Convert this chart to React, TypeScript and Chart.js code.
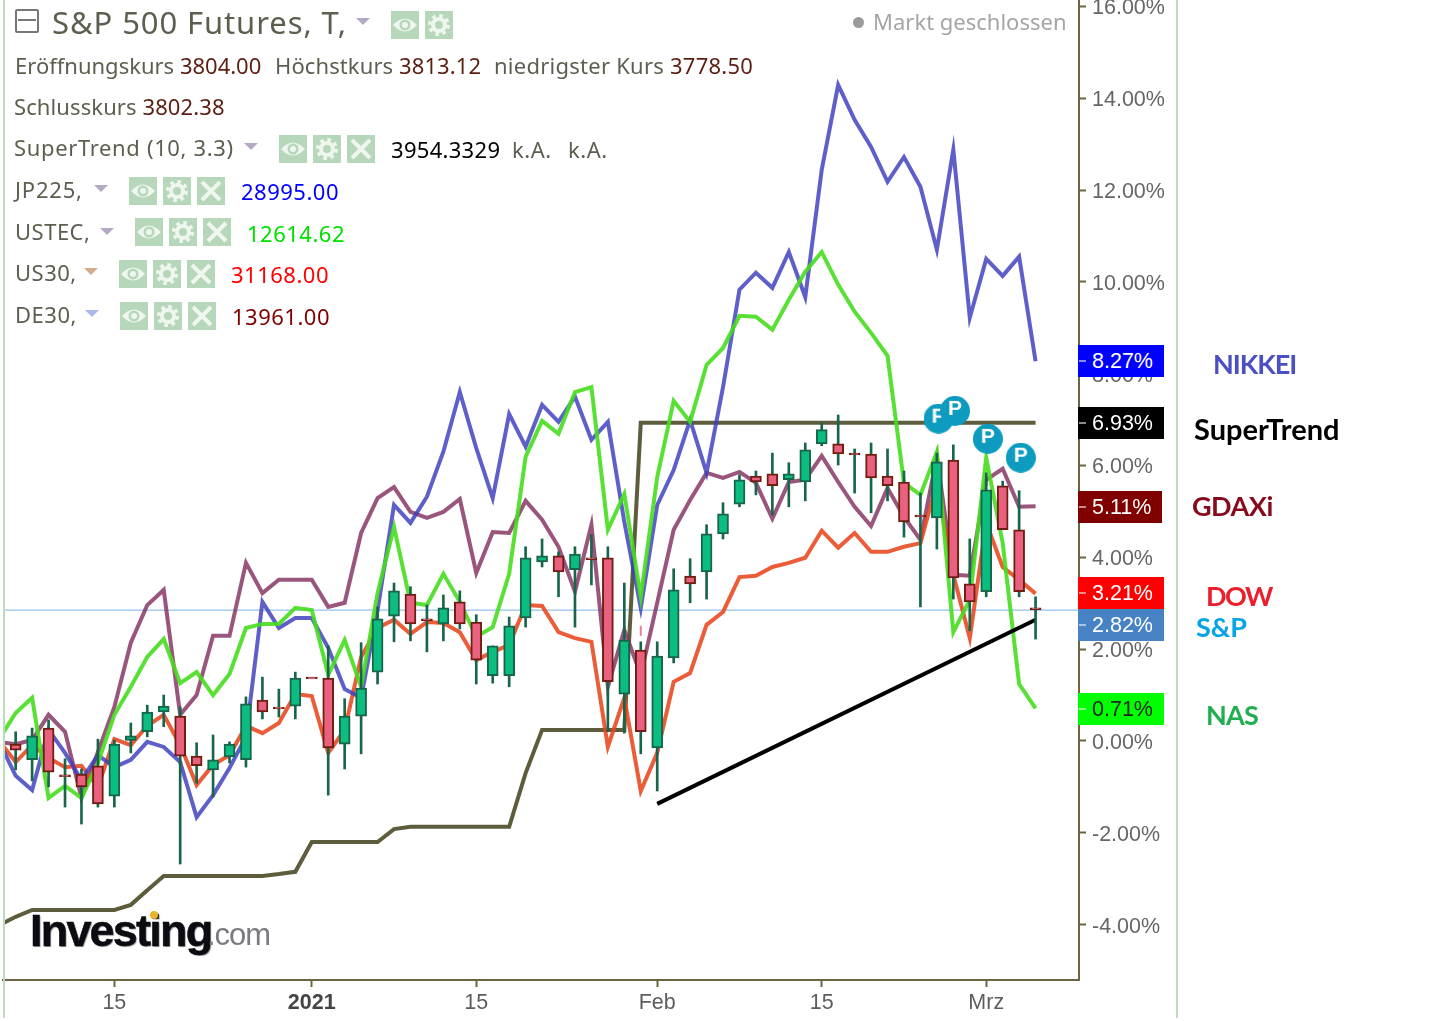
import { useEffect, useRef } from "react"
import { Chart, registerables } from "chart.js"

Chart.register(...registerables)

// candle index 0 is the first full candle, the line series start one session earlier
const opens = [-0.07,-0.41,0.28,-0.74,-0.72,-0.54,-1.20,0.00,0.20,0.63,0.54,-0.33,-0.63,-0.35,-0.41,0.89,0.74,0.76,1.39,1.37,-0.07,0.54,1.50,2.72,3.20,2.66,2.55,3.03,2.59,1.42,1.42,2.68,3.90,4.03,3.73,3.99,3.99,1.02,1.98,-0.15,1.81,3.59,3.68,4.51,5.16,5.77,5.82,5.69,5.64,6.47,6.47,6.27,6.25,5.77,5.64,4.92,4.86,6.12,3.42,3.25,5.56,4.60,2.90]
const closes = [-0.20,0.11,-0.68,-0.78,-1.00,-1.37,-0.07,0.11,0.63,0.76,-0.33,-0.54,-0.41,-0.07,0.81,0.63,0.70,1.37,1.35,-0.15,0.54,1.15,2.66,3.27,2.55,2.62,2.90,2.55,1.76,2.07,2.51,3.99,4.03,3.68,4.07,3.95,1.29,2.20,0.20,1.85,3.29,3.42,4.51,4.95,5.69,5.64,5.56,5.82,6.34,6.78,6.25,6.23,5.73,5.56,4.77,4.88,6.08,3.55,3.03,5.47,4.60,3.25,2.86]
const highs = [0.20,0.28,0.46,-0.39,-0.61,0.04,0.02,0.39,0.78,1.00,0.74,-0.04,0.13,-0.02,0.96,1.39,1.13,1.50,1.37,2.07,0.92,2.14,2.92,3.44,3.36,2.96,3.18,3.27,2.75,2.07,2.70,4.23,4.40,4.12,4.23,4.49,4.23,3.44,2.16,2.16,3.75,3.97,4.71,5.19,5.80,5.88,6.27,6.06,6.49,6.93,7.10,6.36,6.49,6.36,5.88,5.40,6.27,6.45,4.40,5.84,5.66,5.45,3.14]
const lows = [-0.63,-0.87,-1.00,-1.44,-1.81,-1.44,-1.44,-0.26,0.09,0.31,-2.68,-0.92,-1.22,-0.48,-0.57,0.48,0.52,0.48,1.37,-1.18,-0.61,-0.28,1.24,2.16,2.18,1.94,2.18,2.44,1.24,1.26,1.18,2.48,3.79,3.14,2.48,3.40,0.20,0.17,-0.28,-1.09,1.70,3.01,3.09,4.40,5.10,5.36,4.92,5.10,5.23,6.43,6.01,5.40,4.97,5.23,4.44,2.92,4.18,3.09,2.40,3.14,4.60,3.14,2.22]

const nikkei = [-0.02,-0.76,-1.07,0.24,-0.26,-0.85,-0.31,-0.57,-0.41,-0.02,-0.13,-0.46,-1.66,-1.18,-0.59,0.09,3.03,2.46,2.68,2.68,2.03,1.13,0.94,2.85,5.14,4.75,5.32,6.30,7.60,6.38,5.29,7.12,6.41,7.32,6.95,7.50,6.56,6.95,4.77,2.90,5.14,5.90,6.99,5.84,7.71,9.83,10.20,9.87,10.65,9.67,12.44,14.29,13.53,12.94,12.18,12.72,12.07,10.70,12.88,9.22,10.50,10.13,10.55,8.27]
const nasdaq = [0.04,0.61,0.94,-1.24,-0.98,-1.24,-0.48,0.57,1.18,1.83,2.22,1.26,1.50,1.00,1.46,2.46,2.55,2.55,2.90,2.85,1.44,2.20,1.18,3.22,4.66,3.01,2.96,3.64,3.03,2.27,2.48,3.64,6.19,6.97,6.69,7.60,7.71,4.60,5.38,3.14,5.75,7.41,6.95,8.19,8.56,9.26,9.24,8.96,9.61,10.22,10.65,9.94,9.35,8.89,8.39,5.62,5.36,6.30,2.37,3.07,6.17,4.31,1.24,0.71]
const gdaxi = [-0.02,-0.07,0.02,0.57,0.20,-1.24,-0.24,0.74,2.14,2.96,3.29,0.57,1.00,2.29,2.29,3.88,3.22,3.51,3.51,3.51,2.92,3.01,4.53,5.29,5.53,4.99,4.86,4.99,5.27,3.66,4.55,4.53,5.23,4.82,4.23,3.25,4.71,1.18,2.42,1.44,3.01,4.60,5.25,5.84,5.73,5.86,5.62,4.84,5.64,5.69,6.21,5.64,5.10,4.68,5.51,4.88,4.38,6.19,3.62,3.60,5.69,5.93,5.10,5.11]
const dow = [0.00,-0.46,-0.09,-0.37,-0.57,-0.54,-1.00,0.04,-0.09,0.33,0.57,-0.09,-0.96,-0.52,-0.31,0.33,0.17,0.39,1.02,0.98,-0.26,0.24,1.83,2.46,2.64,2.33,2.59,2.57,2.37,1.76,1.94,2.09,2.96,2.94,2.37,2.24,2.16,-0.13,0.94,-1.09,-0.26,1.29,1.48,2.53,2.81,3.57,3.60,3.79,3.88,3.99,4.58,4.21,4.53,4.12,4.12,4.23,4.31,5.62,3.62,2.24,4.75,3.79,3.51,3.21]
const superTrend = [-4.01,-3.83,-3.68,-3.68,-3.68,-3.68,-3.68,-3.68,-3.57,-3.25,-2.94,-2.94,-2.94,-2.94,-2.94,-2.94,-2.94,-2.90,-2.85,-2.20,-2.20,-2.20,-2.20,-2.20,-1.92,-1.87,-1.87,-1.87,-1.87,-1.87,-1.87,-1.87,-0.70,0.24,0.24,0.24,0.24,0.24,0.24,6.93,6.93,6.93,6.93,6.93,6.93,6.93,6.93,6.93,6.93,6.93,6.93,6.93,6.93,6.93,6.93,6.93,6.93,6.93,6.93,6.93,6.93,6.93,6.93,6.93]

const trendX = [39, 62]
const trendY = [-1.37, 2.64]
const lastPrice = 2.85
const pivotX = [56.1, 57.1, 59.1, 61.1]
const pivotY = [7.02, 7.19, 6.58, 6.17]
const xTicks = [6, 18, 28, 39, 49, 59]
const xLabels = ["15", "2021", "15", "Feb", "15", "Mrz"]
const yTicks = [-4, -2, 0, 2, 4, 6, 8, 10, 12, 14, 16]

const X_MIN = -0.77
const X_MAX = 64.64
const OLIVE = "#6b6541"
const ARIAL = "'Liberation Sans', Arial, sans-serif"
const UI = "'Noto Sans', Tahoma, sans-serif"
const LABEL = "#5e5e50"
const VALUE = "#5b1f12"

function pivotImage() {
  const c = document.createElement("canvas")
  c.width = 30
  c.height = 30
  const g = c.getContext("2d")!
  g.fillStyle = "#0d9cbf"
  g.beginPath()
  g.arc(15, 15, 15, 0, Math.PI * 2)
  g.fill()
  g.fillStyle = "#fff"
  g.font = `bold 21px ${ARIAL}`
  g.textAlign = "center"
  g.textBaseline = "middle"
  g.fillText("P", 15, 13)
  return c
}

const asLine = (values: number[], color: string, order: number, width = 4) => ({
  type: "line" as const,
  data: values.map((y, i) => ({ x: i - 1, y })),
  borderColor: color,
  borderWidth: width,
  pointRadius: 0,
  tension: 0,
  borderJoinStyle: "miter" as const,
  order,
})

const Btn = ({ x, y, kind }: { x: number; y: number; kind: "eye" | "gear" | "x" }) => (
  <svg style={{ position: "absolute", left: x, top: y }} width="28" height="28" viewBox="0 0 28 28">
    <rect width="28" height="28" fill="#b7d7ba" />
    {kind === "eye" && (
      <>
        <path d="M2 14 Q14 1 26 14 Q14 27 2 14 Z" fill="#eef6ee" />
        <circle cx="14" cy="14" r="5.5" fill="#b7d7ba" />
        <circle cx="14" cy="14" r="3" fill="#eef6ee" />
      </>
    )}
    {kind === "gear" && (
      <>
        <circle cx="14" cy="14" r="9" fill="none" stroke="#eef6ee" strokeWidth="4" strokeDasharray="3.5 3.57" />
        <circle cx="14" cy="14" r="6" fill="none" stroke="#eef6ee" strokeWidth="4" />
      </>
    )}
    {kind === "x" && <path d="M5 5L23 23M23 5L5 23" stroke="#eef6ee" strokeWidth="4" />}
  </svg>
)

const Tri = ({ x, y, color = "#b3a9c4" }: { x: number; y: number; color?: string }) => (
  <div
    style={{
      position: "absolute",
      left: x,
      top: y,
      width: 0,
      height: 0,
      borderLeft: "7px solid transparent",
      borderRight: "7px solid transparent",
      borderTop: `7px solid ${color}`,
    }}
  />
)

const Txt = ({ x, y, size = 22, color = LABEL, spacing = 0, font = UI, bold = false, style, children }: any) => (
  <div
    style={{
      position: "absolute",
      left: x,
      top: y,
      fontFamily: font,
      fontSize: size,
      color,
      letterSpacing: spacing,
      fontWeight: bold ? 700 : 400,
      whiteSpace: "pre",
      lineHeight: 1,
      ...style,
    }}
  >
    {children}
  </div>
)

const Tag = ({ y, w = 86, bg, color = "#fff", children }: any) => (
  <div
    style={{
      position: "absolute",
      left: 1078,
      top: y,
      width: w,
      height: 32,
      background: bg,
      color,
      fontFamily: ARIAL,
      fontSize: 21.5,
      lineHeight: "33px",
      paddingLeft: 14,
      boxSizing: "border-box",
    }}
  >
    <div style={{ position: "absolute", left: 1, top: 15, width: 7, height: 2, background: "rgba(255,255,255,0.55)" }} />
    {children}
  </div>
)

export default function App() {
  const ref = useRef<HTMLCanvasElement>(null)

  useEffect(() => {
    if (!ref.current) return
    const up = opens.map((o, i) => closes[i] >= o)
    const pivot = pivotImage()
    const chart = new Chart(ref.current, {
      data: {
        datasets: [
          {
            type: "scatter",
            data: pivotX.map((x, i) => ({ x, y: pivotY[i] })),
            pointStyle: pivot,
            pointRadius: 15,
            order: 0,
          },
          {
            type: "scatter",
            data: [{ x: 38, y: 2.4 }],
            pointStyle: "line",
            rotation: 90,
            pointRadius: 5,
            borderColor: "#ea7f9c",
            borderWidth: 2,
            order: 0,
          },
          {
            type: "bar",
            data: opens.map((o, i) => ({ x: i, y: [o, closes[i]] })),
            backgroundColor: up.map((u) => (u ? "#0cbd82" : "#e9617f")),
            borderColor: up.map((u) => (u ? "#17654a" : "#6e1f12")),
            borderWidth: 2,
            borderSkipped: false,
            barThickness: 11,
            grouped: false,
            order: 1,
          },
          {
            type: "bar",
            data: lows.map((l, i) => ({ x: i, y: [l, highs[i]] })),
            backgroundColor: "#17654a",
            borderWidth: 0,
            barThickness: 2,
            grouped: false,
            order: 2,
          },
          {
            type: "line",
            data: trendX.map((x, i) => ({ x, y: trendY[i] })),
            borderColor: "#000",
            borderWidth: 4,
            pointRadius: 0,
            order: 3,
          },
          asLine(nasdaq, "rgba(70,222,30,0.9)", 4),
          asLine(nikkei, "rgba(60,60,190,0.82)", 5),
          asLine(dow, "rgba(232,70,30,0.88)", 6),
          asLine(gdaxi, "rgba(135,55,100,0.85)", 7),
          asLine(superTrend, "rgba(75,75,40,0.9)", 8),
          {
            type: "line",
            data: [
              { x: X_MIN, y: lastPrice },
              { x: X_MAX, y: lastPrice },
            ],
            borderColor: "#94c1ec",
            borderWidth: 1.2,
            pointRadius: 0,
            order: 9,
          },
        ] as any,
      },
      options: {
        animation: false,
        responsive: false,
        devicePixelRatio: 1,
        // the pivot markers would otherwise add 15px of padding round the plot
        layout: { autoPadding: false, padding: { left: 3, right: 0, top: 0, bottom: 0 } },
        plugins: { legend: { display: false }, tooltip: { enabled: false } },
        scales: {
          x: {
            type: "linear",
            offset: false,
            bounds: "data",
            min: X_MIN,
            max: X_MAX,
            afterBuildTicks: (s: any) => {
              s.ticks = xTicks.map((value) => ({ value }))
            },
            afterFit: (s: any) => {
              s.height = 41
              s.paddingLeft = 0
              s.paddingRight = 0
            },
            grid: { offset: false, drawOnChartArea: false, tickLength: 7, tickColor: OLIVE, tickWidth: 2 },
            border: { color: OLIVE, width: 2 },
            ticks: {
              maxRotation: 0,
              autoSkip: false,
              padding: 3,
              color: (c: any) => (c.tick && c.tick.value === 18 ? "#444" : "#5d5d5d"),
              font: (c: any) => ({
                family: ARIAL,
                size: 21.5,
                weight: c.tick && c.tick.value === 18 ? "bold" : "normal",
              }),
              callback: (v: any) => xLabels[xTicks.indexOf(v)] ?? "",
            },
          },
          y: {
            position: "right",
            bounds: "data",
            min: -5.207,
            max: 16.14,
            afterBuildTicks: (s: any) => {
              s.ticks = yTicks.map((value) => ({ value }))
            },
            afterFit: (s: any) => {
              s.width = 362
              s.paddingTop = 0
              s.paddingBottom = 0
            },
            grid: { drawOnChartArea: false, tickLength: 7, tickColor: OLIVE, tickWidth: 2 },
            border: { color: OLIVE, width: 2 },
            ticks: {
              padding: 6,
              labelOffset: 2,
              color: "#666",
              font: { family: ARIAL, size: 21.5 },
              callback: (v: any) => `${Number(v).toFixed(2)}%`,
            },
          },
        },
      },
    })
    return () => chart.destroy()
  }, [])

  return (
    <div style={{ position: "absolute", left: 0, top: 0, width: 1441, height: 1021, background: "#fff", overflow: "hidden" }}>
      <canvas ref={ref} width={1441} height={1021} style={{ display: "block" }} />

      <div style={{ position: "absolute", left: 3, top: 0, width: 2, height: 1018, background: "#bcdcc0" }} />
      <div style={{ position: "absolute", left: 1176, top: 0, width: 2, height: 1018, background: "#bcdcc0" }} />

      <div style={{ position: "absolute", left: 15, top: 9, width: 20, height: 20, border: "2px solid #777", borderRadius: 2 }}>
        <div style={{ margin: "8px 1px", height: 2, background: "#777" }} />
      </div>
      <Txt x={52} y={7} size={31} spacing={0.9}>S&amp;P 500 Futures, T,</Txt>
      <Tri x={356} y={18} />
      <Btn x={391} y={11} kind="eye" />
      <Btn x={425} y={11} kind="gear" />
      <div style={{ position: "absolute", left: 853, top: 17, width: 11, height: 11, borderRadius: 6, background: "#9a9a9a" }} />
      <Txt x={873} y={10} size={22} color="#a5a5a5">Markt geschlossen</Txt>

      <Txt x={15} y={54}>Eröffnungskurs <span style={{ color: VALUE }}>3804.00</span></Txt>
      <Txt x={275} y={54} spacing={0.1}>Höchstkurs <span style={{ color: VALUE }}>3813.12</span></Txt>
      <Txt x={494} y={54} spacing={0.25}>niedrigster Kurs <span style={{ color: VALUE }}>3778.50</span></Txt>
      <Txt x={14} y={95} spacing={0.1}>Schlusskurs <span style={{ color: VALUE }}>3802.38</span></Txt>

      <Txt x={14} y={136} spacing={0.65}>SuperTrend (10, 3.3)</Txt>
      <Tri x={244} y={143} />
      <Btn x={279} y={135} kind="eye" />
      <Btn x={313} y={135} kind="gear" />
      <Btn x={347} y={135} kind="x" />
      <Txt x={391} y={138} color="#000" spacing={0.3}>3954.3329</Txt>
      <Txt x={512} y={138} spacing={0.5}>k.A.</Txt>
      <Txt x={568} y={138} spacing={0.5}>k.A.</Txt>

      <Txt x={15} y={178} spacing={0.8}>JP225,</Txt>
      <Tri x={94} y={185} />
      <Btn x={129} y={177} kind="eye" />
      <Btn x={163} y={177} kind="gear" />
      <Btn x={197} y={177} kind="x" />
      <Txt x={241} y={180} color="#0000ff" spacing={0.5}>28995.00</Txt>

      <Txt x={15} y={220} spacing={0.5}>USTEC,</Txt>
      <Tri x={100} y={228} />
      <Btn x={135} y={218} kind="eye" />
      <Btn x={169} y={218} kind="gear" />
      <Btn x={203} y={218} kind="x" />
      <Txt x={247} y={222} color="#00e000" spacing={0.5}>12614.62</Txt>

      <Txt x={15} y={261} spacing={0.5}>US30,</Txt>
      <Tri x={84} y={268} color="#d2ad8f" />
      <Btn x={119} y={260} kind="eye" />
      <Btn x={153} y={260} kind="gear" />
      <Btn x={187} y={260} kind="x" />
      <Txt x={231} y={263} color="#ff0000" spacing={0.5}>31168.00</Txt>

      <Txt x={15} y={303} spacing={0.5}>DE30,</Txt>
      <Tri x={85} y={310} color="#a9b8e6" />
      <Btn x={120} y={302} kind="eye" />
      <Btn x={154} y={302} kind="gear" />
      <Btn x={188} y={302} kind="x" />
      <Txt x={232} y={305} color="#800000" spacing={0.5}>13961.00</Txt>

      <Tag y={345} bg="#0000ff">8.27%</Tag>
      <Tag y={407} bg="#000">6.93%</Tag>
      <Tag y={491} w={84} bg="#800000">5.11%</Tag>
      <Tag y={577} bg="#ff0000">3.21%</Tag>
      <Tag y={609} bg="#4682c4">2.82%</Tag>
      <Tag y={693} bg="#00ff00" color="#222">0.71%</Tag>

      <Txt x={1213} y={350} size={27} bold font="Lato" color="#4a4fc2" spacing={-1}>NIKKEI</Txt>
      <Txt x={1194} y={414} size={29} bold font="Lato" color="#000">SuperTrend</Txt>
      <Txt x={1192} y={492} size={27} bold font="Lato" color="#860a1c" spacing={-0.5}>GDAXi</Txt>
      <Txt x={1206} y={582} size={27} bold font="Lato" color="#ea1f2b" spacing={-1.5}>DOW</Txt>
      <Txt x={1196} y={613} size={27} bold font="Lato" color="#04a4e8">S&amp;P</Txt>
      <Txt x={1206} y={701} size={27} bold font="Lato" color="#22ad50" spacing={-0.8}>NAS</Txt>

      <Txt x={30} y={908} size={45} bold font={ARIAL} color="#0b0b12" spacing={-1.8} style={{ textShadow: "1px 1px 1px #999", WebkitTextStroke: "0.5px #0b0b12" }}>Investing</Txt>
      <Txt x={207} y={919} size={31} font={ARIAL} color="#7a7a80" spacing={-1}>.com</Txt>
      <div style={{ position: "absolute", left: 150, top: 911, width: 8, height: 8, borderRadius: 4, background: "#e4b52c" }} />
    </div>
  )
}
